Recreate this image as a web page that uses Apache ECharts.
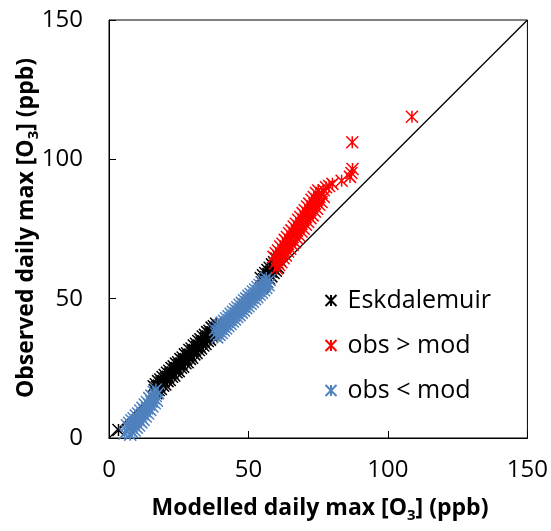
<!DOCTYPE html>
<html><head><meta charset="utf-8">
<script src="https://cdn.jsdelivr.net/npm/echarts@6/dist/echarts.min.js"></script>
<style>html,body{margin:0;padding:0;background:#fff}#c{width:551px;height:531px}</style>
</head><body><div id="c"></div>
<script>
// ---- data ----
const axisTicks = [0, 50, 100, 150];
const seriesNames = ['Eskdalemuir', 'obs > mod', 'obs < mod'];

const eskdalemuir = [
  [3.4,2.9],
  [16.0,18.6],[16.8,19.3],[17.6,20.4],[18.4,21.0],[19.2,21.9],[20.0,22.6],[20.8,23.4],[21.6,24.1],[22.4,25.1],[23.2,25.7],
  [24.0,26.7],[24.8,27.2],[25.6,28.3],[26.4,28.9],[27.2,30.0],[28.0,30.4],[28.8,31.6],[29.6,32.1],[30.4,33.2],[31.2,33.8],
  [32.0,34.8],[32.8,35.4],[33.6,36.4],[34.4,37.0],[35.2,38.0],[36.0,38.5],[36.8,39.6],[37.6,40.1],[38.4,41.0],
  [16.4,17.2],[17.2,18.3],[18.0,18.8],[18.8,19.9],[19.6,20.4],[20.4,21.5],[21.2,22.0],[22.0,23.1],[22.8,23.5],[23.6,24.7],
  [24.4,25.1],[25.2,26.3],[26.0,26.7],[26.8,27.9],[27.6,28.3],[28.4,29.5],[29.2,29.9],[30.0,31.1],[30.8,31.6],[31.6,32.7],
  [32.4,33.1],[33.2,34.3],[34.0,34.7],[34.8,35.9],[35.6,36.3],[36.4,37.5],[37.2,37.9],[38.0,39.1],[38.8,39.5],
  [17.0,16.1],[17.8,17.2],[18.6,17.6],[19.4,18.8],[20.2,19.2],[21.0,20.4],[21.8,20.8],[22.6,22.0],[23.4,22.4],[24.2,23.6],
  [25.0,24.0],[25.8,25.2],[26.6,25.6],[27.4,26.8],[28.2,27.2],[29.0,28.4],[29.8,28.8],[30.6,30.0],[31.4,30.5],[32.2,31.6],
  [33.0,32.1],[33.8,33.2],[34.6,33.7],[35.4,34.8],[36.2,35.3],[37.0,36.4],[37.8,36.9],[38.6,38.0],
  [54.4,57.4],[55.2,58.4],[56.0,59.2],[56.8,60.3],[57.6,61.1],[58.4,62.3],[59.2,63.1],[60.0,64.4],[60.8,65.2],[61.6,66.3],
  [54.8,55.9],[55.6,57.0],[56.4,57.7],[57.2,58.9],[58.0,59.7],[58.8,60.9],[59.6,61.7],[60.4,62.9],[61.2,63.8],
  [55.0,54.3],[55.8,55.3],[56.6,56.1],[57.4,57.2],[58.2,58.0],[59.0,59.2],[59.8,60.0],[60.6,61.2]
];

const obsGtMod = [
  [59.0,65.0],[59.8,66.3],[60.6,67.3],[61.4,68.7],[62.2,69.7],[63.0,71.1],[63.8,72.1],[64.6,73.5],[65.4,74.5],[66.2,75.9],
  [67.0,76.9],[67.8,78.3],[68.6,79.3],[69.4,80.7],[70.2,81.7],[71.0,83.1],[71.8,84.1],[72.6,85.5],[73.4,86.5],[74.2,87.9],
  [75.0,88.8],
  [59.4,62.6],[60.2,63.9],[61.0,64.9],[61.8,66.3],[62.6,67.3],[63.4,68.7],[64.2,69.7],[65.0,71.1],[65.8,72.1],[66.6,73.5],
  [67.4,74.5],[68.2,75.9],[69.0,76.9],[69.8,78.3],[70.6,79.3],[71.4,80.7],[72.2,81.7],[73.0,83.1],[73.8,84.1],[74.6,85.5],
  [75.4,86.5],[76.2,87.9],[77.0,88.9],[77.8,90.0],
  [60.2,60.8],[61.0,62.1],[61.8,63.1],[62.6,64.5],[63.4,65.5],[64.2,66.9],[65.0,67.9],[65.8,69.3],[66.6,70.3],[67.4,71.7],
  [68.2,72.7],[69.0,74.1],[69.8,75.1],[70.6,76.5],[71.4,77.5],[72.2,78.9],[73.0,79.9],[73.8,81.3],[74.6,82.3],[75.4,83.7],
  [76.2,84.7],[77.0,86.5],
  [78.9,90.4],[80.1,91.2],[83.4,92.3],[86.4,93.7],[86.9,95.1],[87.3,96.5],[87.2,106.1],[108.6,115.3]
];

const obsLtMod = [
  [6.4,4.6],[7.2,5.5],[8.0,6.4],[8.8,7.1],[9.6,8.1],[10.4,8.8],[11.2,9.9],[12.0,10.8],[12.8,12.0],[13.6,12.9],
  [14.4,14.3],[15.2,15.2],[16.0,16.6],[16.8,17.4],
  [5.6,1.6],[6.4,2.5],[7.2,3.2],[8.0,4.2],[8.8,4.9],[9.6,5.7],[10.4,6.5],[11.2,7.6],[12.0,8.5],[12.8,9.6],
  [13.6,10.6],[14.4,11.9],[15.2,13.0],[16.0,14.3],[16.8,15.1],[17.6,16.1],
  [7.6,1.2],[8.4,2.1],[9.2,2.7],[10.0,3.7],[10.8,4.5],[11.6,5.6],[12.4,6.5],[13.2,7.7],[14.0,8.8],[14.8,10.1],
  [15.6,11.3],[16.4,12.5],[17.2,13.4],
  [38.0,38.9],[38.8,39.8],[39.6,40.5],[40.4,41.4],[41.2,42.1],[42.0,43.0],[42.8,43.7],[43.6,44.6],[44.4,45.3],[45.2,46.2],
  [46.0,46.9],[46.8,47.8],[47.6,48.5],[48.4,49.4],[49.2,50.1],[50.0,51.0],[50.8,51.7],[51.6,52.6],[52.4,53.3],[53.2,54.2],
  [54.0,54.9],[54.8,55.8],[55.6,56.5],[56.4,57.4],
  [38.4,37.5],[39.2,38.4],[40.0,39.1],[40.8,40.0],[41.6,40.7],[42.4,41.6],[43.2,42.3],[44.0,43.2],[44.8,43.9],[45.6,44.8],
  [46.4,45.5],[47.2,46.4],[48.0,47.1],[48.8,48.0],[49.6,48.7],[50.4,49.6],[51.2,50.3],[52.0,51.2],[52.8,51.9],[53.6,52.8],
  [54.4,53.5],[55.2,54.4],[56.0,55.1],[56.8,56.0],[57.6,56.7],
  [38.8,36.1],[39.6,37.0],[40.4,37.7],[41.2,38.6],[42.0,39.3],[42.8,40.2],[43.6,40.9],[44.4,41.8],[45.2,42.5],[46.0,43.4],
  [46.8,44.1],[47.6,45.0],[48.4,45.7],[49.2,46.6],[50.0,47.3],[50.8,48.2],[51.6,48.9],[52.4,49.8],[53.2,50.5],[54.0,51.4],
  [54.8,52.1],[55.6,53.0],[56.4,53.8],[57.2,54.8]
];

const oneToOne = [[0,0],[150,150]];

// ---- chart ----
const FONT = 'Open Sans';
const STAR = 'path://M0,0L10,10M10,0L0,10M5,0L5,10';
const colors = ['#000000', '#ff0000', '#4f81bd'];

function starSeries(name, data, color) {
  return {
    name: name, type: 'scatter', data: data,
    symbol: STAR, symbolSize: 12,
    itemStyle: { color: 'none', borderColor: color, borderWidth: 1.5, opacity: 1 },
    emphasis: { disabled: true }, silent: true, z: 3
  };
}

const axisCommon = {
  type: 'value', min: axisTicks[0], max: axisTicks[axisTicks.length - 1],
  interval: axisTicks[1] - axisTicks[0],
  axisLine: { show: true, lineStyle: { color: '#000', width: 1 } },
  axisTick: { show: true, inside: true, length: 7, lineStyle: { color: '#000', width: 1 } },
  splitLine: { show: false },
  axisLabel: { color: '#000', fontFamily: FONT, fontSize: 24 }
};

const titleRich = {
  b: { fontFamily: FONT, fontWeight: 'bold', fontSize: 23, color: '#000', lineHeight: 30 },
  s: { fontFamily: FONT, fontWeight: 'bold', fontSize: 15, color: '#000', verticalAlign: 'bottom' }
};

const chart = echarts.init(document.getElementById('c'), null, { renderer: 'canvas' });
chart.setOption({
  animation: false,
  backgroundColor: '#fff',
  grid: { left: 109, top: 20, width: 420, height: 418, show: true, borderColor: '#000', borderWidth: 1, containLabel: false },
  xAxis: Object.assign({}, axisCommon, { axisLabel: Object.assign({}, axisCommon.axisLabel, { margin: 20 }) }),
  yAxis: Object.assign({}, axisCommon, { axisLabel: Object.assign({}, axisCommon.axisLabel, { margin: 26 }) }),
  legend: {
    orient: 'vertical', left: 318, top: 283, itemGap: 20,
    itemWidth: 11, itemHeight: 11,
    textStyle: { fontFamily: FONT, fontSize: 25, color: '#000', padding: [0, 0, 0, 6] },
    data: seriesNames
  },
  graphic: [
    { type: 'text', x: 320, y: 508, silent: true,
      style: { text: '{b|Modelled daily max [O}{s|3}{b|] (ppb)}', rich: titleRich, align: 'center', verticalAlign: 'middle' } },
    { type: 'text', x: 26, y: 228, rotation: Math.PI / 2, silent: true,
      style: { text: '{b|Observed daily max [O}{s|3}{b|] (ppb)}', rich: titleRich, align: 'center', verticalAlign: 'middle' } }
  ],
  series: [
    { name: '1:1', type: 'line', data: oneToOne, symbol: 'none', silent: true, z: 1,
      lineStyle: { color: '#000', width: 1.3 } },
    starSeries(seriesNames[0], eskdalemuir, colors[0]),
    starSeries(seriesNames[2], obsLtMod, colors[2]),
    starSeries(seriesNames[1], obsGtMod, colors[1])
  ]
});
</script>
</body></html>
